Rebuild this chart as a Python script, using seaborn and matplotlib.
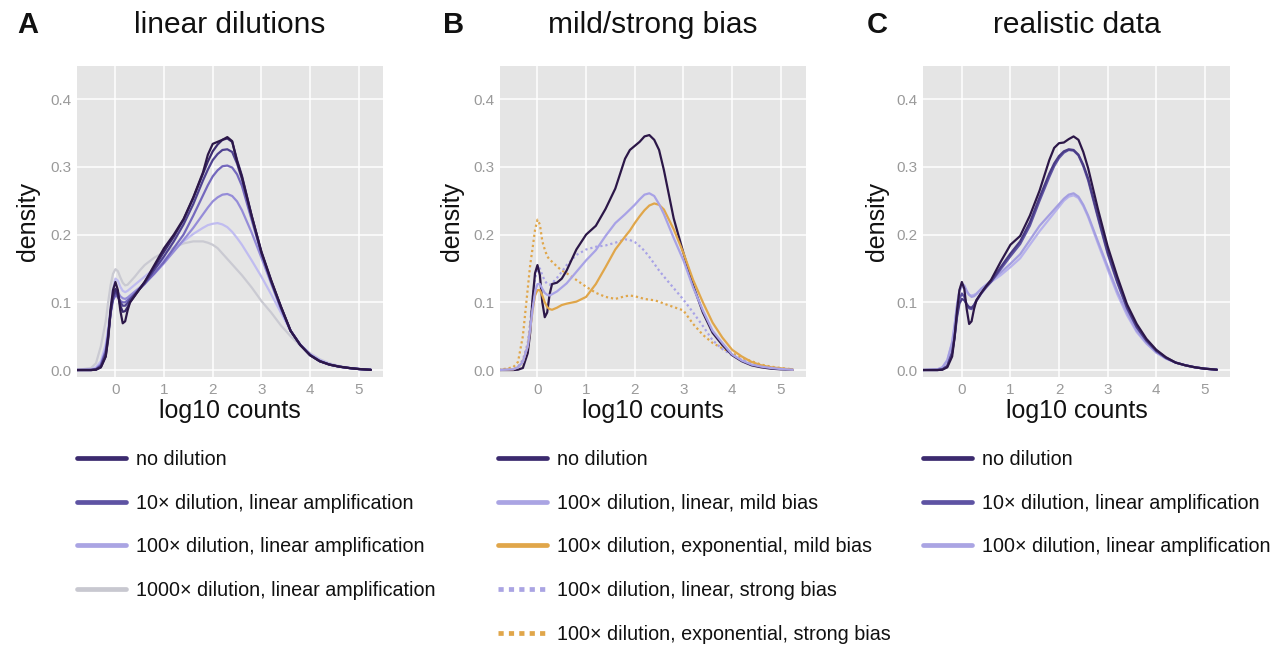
import matplotlib
matplotlib.use("Agg")
import matplotlib.pyplot as plt
import seaborn as sns
import pandas as pd
from matplotlib.lines import Line2D

# ---------------- data ----------------
X = [-0.8, -0.5, -0.4, -0.3, -0.2, -0.15, -0.1, -0.05, 0.0, 0.05, 0.1, 0.15, 0.2, 0.25, 0.3,
     0.4, 0.5, 0.6, 0.8, 1.0, 1.2, 1.4, 1.6, 1.8, 1.9, 2.0, 2.1, 2.2, 2.3, 2.4, 2.5, 2.6,
     2.8, 3.0, 3.2, 3.4, 3.6, 3.8, 4.0, 4.2, 4.4, 4.6, 4.8, 5.0, 5.25]

# Panel A: linear dilutions (curves from darkest to lightest)
A_none_a = [0, 0, 0.0005, 0.004, 0.02, 0.048, 0.09, 0.118, 0.13, 0.118, 0.088, 0.069, 0.072, 0.088, 0.1,
            0.11, 0.12, 0.13, 0.155, 0.18, 0.2, 0.223, 0.255, 0.292, 0.318, 0.334, 0.337, 0.34, 0.344, 0.338, 0.308, 0.285,
            0.228, 0.175, 0.133, 0.094, 0.058, 0.037, 0.022, 0.013, 0.008, 0.005, 0.003, 0.0015, 0.0003]
A_none_b = [0, 0, 0.0005, 0.004, 0.02, 0.045, 0.085, 0.11, 0.12, 0.112, 0.095, 0.086, 0.087, 0.093, 0.1,
            0.11, 0.12, 0.13, 0.152, 0.175, 0.197, 0.222, 0.254, 0.29, 0.308, 0.323, 0.333, 0.34, 0.342, 0.337, 0.31, 0.287,
            0.228, 0.174, 0.132, 0.094, 0.058, 0.037, 0.022, 0.013, 0.008, 0.005, 0.003, 0.0015, 0.0003]
A_10x_a = [0, 0, 0.001, 0.006, 0.025, 0.05, 0.085, 0.107, 0.115, 0.11, 0.1, 0.095, 0.095, 0.099, 0.104,
           0.112, 0.12, 0.128, 0.148, 0.168, 0.19, 0.215, 0.245, 0.28, 0.296, 0.31, 0.319, 0.325, 0.326, 0.322, 0.305, 0.282,
           0.226, 0.173, 0.131, 0.093, 0.058, 0.037, 0.022, 0.013, 0.008, 0.005, 0.003, 0.0015, 0.0003]
A_10x_b = [0, 0, 0.001, 0.007, 0.028, 0.052, 0.083, 0.103, 0.11, 0.108, 0.102, 0.1, 0.1, 0.103, 0.106,
           0.113, 0.12, 0.127, 0.143, 0.16, 0.18, 0.2, 0.228, 0.258, 0.273, 0.286, 0.295, 0.301, 0.302, 0.299, 0.289, 0.272,
           0.222, 0.172, 0.13, 0.092, 0.058, 0.037, 0.022, 0.013, 0.008, 0.005, 0.003, 0.0015, 0.0003]
A_100x_a = [0, 0.0005, 0.002, 0.009, 0.03, 0.055, 0.085, 0.107, 0.117, 0.115, 0.109, 0.106, 0.105, 0.107, 0.11,
            0.116, 0.122, 0.128, 0.142, 0.158, 0.175, 0.192, 0.21, 0.23, 0.24, 0.249, 0.255, 0.259, 0.26, 0.257, 0.249, 0.236,
            0.203, 0.166, 0.128, 0.09, 0.058, 0.037, 0.023, 0.014, 0.008, 0.005, 0.003, 0.0015, 0.0003]
A_100x_b = [0, 0.001, 0.004, 0.013, 0.038, 0.062, 0.092, 0.12, 0.135, 0.132, 0.123, 0.117, 0.115, 0.117, 0.12,
            0.126, 0.132, 0.138, 0.15, 0.163, 0.177, 0.19, 0.201, 0.21, 0.214, 0.216, 0.217, 0.215, 0.211, 0.204, 0.195, 0.185,
            0.162, 0.138, 0.112, 0.085, 0.058, 0.038, 0.024, 0.015, 0.009, 0.005, 0.003, 0.0015, 0.0003]
A_1000x = [0, 0.003, 0.01, 0.035, 0.072, 0.1, 0.125, 0.142, 0.149, 0.146, 0.137, 0.129, 0.125, 0.126, 0.13,
           0.138, 0.147, 0.155, 0.166, 0.174, 0.181, 0.187, 0.19, 0.19, 0.188, 0.185, 0.18, 0.172, 0.164, 0.156, 0.148, 0.14,
           0.122, 0.102, 0.085, 0.066, 0.05, 0.036, 0.025, 0.016, 0.01, 0.006, 0.003, 0.0015, 0.0003]

# Panel B: mild/strong bias
B_none = [0, 0, 0.0005, 0.003, 0.025, 0.055, 0.105, 0.143, 0.155, 0.14, 0.1, 0.078, 0.085, 0.112, 0.127,
          0.129, 0.135, 0.147, 0.178, 0.2, 0.213, 0.238, 0.268, 0.312, 0.325, 0.331, 0.337, 0.345, 0.347, 0.34, 0.325, 0.295,
          0.224, 0.173, 0.125, 0.085, 0.055, 0.037, 0.022, 0.013, 0.007, 0.004, 0.002, 0.001, 0.0003]
B_lin_mild = [0, 0.001, 0.004, 0.012, 0.035, 0.06, 0.09, 0.115, 0.127, 0.127, 0.12, 0.114, 0.111, 0.11, 0.112,
              0.116, 0.122, 0.128, 0.145, 0.162, 0.177, 0.198, 0.217, 0.23, 0.237, 0.244, 0.252, 0.259, 0.261, 0.257, 0.245, 0.23,
              0.195, 0.162, 0.122, 0.088, 0.058, 0.04, 0.023, 0.014, 0.008, 0.005, 0.003, 0.0015, 0.0003]
B_exp_mild = [0, 0.001, 0.004, 0.012, 0.035, 0.06, 0.088, 0.11, 0.118, 0.118, 0.11, 0.1, 0.093, 0.09, 0.089,
              0.092, 0.096, 0.098, 0.101, 0.108, 0.127, 0.152, 0.178, 0.197, 0.206, 0.217, 0.227, 0.236, 0.243, 0.246, 0.244, 0.237,
              0.208, 0.173, 0.133, 0.1, 0.07, 0.048, 0.03, 0.02, 0.012, 0.007, 0.004, 0.0025, 0.0005]
B_lin_strong = [0, 0.001, 0.005, 0.015, 0.04, 0.07, 0.105, 0.135, 0.15, 0.15, 0.14, 0.132, 0.127, 0.126, 0.128,
                0.136, 0.145, 0.155, 0.17, 0.178, 0.182, 0.184, 0.188, 0.193, 0.192, 0.189, 0.183, 0.176, 0.167, 0.157, 0.147, 0.138,
                0.121, 0.104, 0.085, 0.065, 0.044, 0.031, 0.022, 0.015, 0.01, 0.006, 0.004, 0.002, 0.0005]
B_exp_strong = [0, 0.004, 0.012, 0.05, 0.12, 0.155, 0.18, 0.207, 0.222, 0.215, 0.19, 0.178, 0.168, 0.163, 0.16,
                0.153, 0.147, 0.143, 0.133, 0.123, 0.114, 0.108, 0.105, 0.109, 0.11, 0.109, 0.107, 0.105, 0.104, 0.103, 0.101, 0.098,
                0.093, 0.088, 0.068, 0.052, 0.04, 0.032, 0.025, 0.018, 0.013, 0.008, 0.005, 0.003, 0.001]

# Panel C: realistic data
C_none = [0, 0, 0.0005, 0.004, 0.02, 0.048, 0.088, 0.118, 0.13, 0.12, 0.09, 0.068, 0.072, 0.09, 0.103,
          0.114, 0.124, 0.133, 0.16, 0.185, 0.198, 0.228, 0.265, 0.31, 0.328, 0.335, 0.336, 0.341, 0.345, 0.34, 0.322, 0.298,
          0.238, 0.183, 0.138, 0.097, 0.068, 0.046, 0.03, 0.019, 0.011, 0.007, 0.004, 0.002, 0.0005]
C_10x_a = [0, 0, 0.001, 0.006, 0.025, 0.048, 0.078, 0.098, 0.105, 0.103, 0.097, 0.093, 0.092, 0.096, 0.103,
           0.114, 0.123, 0.131, 0.152, 0.172, 0.19, 0.218, 0.255, 0.29, 0.305, 0.316, 0.323, 0.326, 0.325, 0.318, 0.303, 0.283,
           0.228, 0.175, 0.131, 0.093, 0.064, 0.044, 0.029, 0.018, 0.011, 0.007, 0.004, 0.002, 0.0005]
C_10x_b = [0, 0, 0.001, 0.006, 0.026, 0.05, 0.082, 0.105, 0.113, 0.108, 0.097, 0.091, 0.09, 0.095, 0.102,
           0.113, 0.122, 0.13, 0.149, 0.168, 0.186, 0.213, 0.25, 0.285, 0.301, 0.313, 0.321, 0.325, 0.324, 0.317, 0.301, 0.28,
           0.225, 0.172, 0.129, 0.091, 0.063, 0.043, 0.028, 0.018, 0.011, 0.007, 0.004, 0.002, 0.0005]
C_100x_a = [0, 0.001, 0.004, 0.014, 0.04, 0.065, 0.095, 0.118, 0.127, 0.125, 0.117, 0.111, 0.108, 0.109, 0.112,
            0.12, 0.126, 0.132, 0.144, 0.157, 0.171, 0.192, 0.213, 0.229, 0.237, 0.245, 0.253, 0.259, 0.261, 0.256, 0.244, 0.228,
            0.19, 0.153, 0.116, 0.085, 0.058, 0.04, 0.026, 0.017, 0.011, 0.007, 0.004, 0.002, 0.0005]
C_100x_b = [0, 0.001, 0.004, 0.015, 0.042, 0.067, 0.096, 0.116, 0.123, 0.121, 0.115, 0.111, 0.11, 0.111, 0.113,
            0.12, 0.125, 0.13, 0.14, 0.152, 0.165, 0.185, 0.205, 0.223, 0.232, 0.241, 0.25, 0.256, 0.258, 0.254, 0.242, 0.226,
            0.187, 0.149, 0.112, 0.081, 0.056, 0.039, 0.026, 0.017, 0.011, 0.007, 0.004, 0.002, 0.0005]

# legend labels
A_labels = ["no dilution", "10\u00d7 dilution, linear amplification",
            "100\u00d7 dilution, linear amplification", "1000\u00d7 dilution, linear amplification"]
B_labels = ["no dilution", "100\u00d7 dilution, linear, mild bias", "100\u00d7 dilution, exponential, mild bias",
            "100\u00d7 dilution, linear, strong bias", "100\u00d7 dilution, exponential, strong bias"]
C_labels = ["no dilution", "10\u00d7 dilution, linear amplification", "100\u00d7 dilution, linear amplification"]
titles = ["linear dilutions", "mild/strong bias", "realistic data"]
letters = ["A", "B", "C"]

# ---------------- style ----------------
DARK = "#3b2a6e"
MED = "#5e53a3"
LAV = "#aaa4e3"
GRAY = "#c8c8d0"
ORANGE = "#e0a64a"

sns.set_theme(style="darkgrid", rc={"axes.facecolor": "#e5e5e5", "grid.color": "white",
                                     "grid.linewidth": 1.1, "axes.edgecolor": "#e5e5e5"})
plt.rcParams["font.family"] = ["Liberation Sans", "DejaVu Sans"]

W, H = 1276, 646
fig = plt.figure(figsize=(W / 100, H / 100), dpi=100)

panels = [
    dict(left=77, width=306, xlim=(-0.79, 5.50), ylabx=-0.12, legx=0.0, title_cx=230, letter_x=17,
         curves=[("1000x", A_1000x, "#cacad2", False), ("100x b", A_100x_b, "#c0bcf0", False),
                 ("100x a", A_100x_a, "#958cd8", False), ("10x b", A_10x_b, "#7468bd", False),
                 ("10x a", A_10x_a, "#4f4290", False), ("none b", A_none_b, "#3b2a6e", False),
                 ("none a", A_none_a, "#2c1748", False)],
         legend=[(A_labels[0], DARK, False), (A_labels[1], MED, False), (A_labels[2], LAV, False),
                 (A_labels[3], GRAY, False)]),
    dict(left=500, width=306, xlim=(-0.77, 5.52), ylabx=-0.118, legx=-0.006, title_cx=653, letter_x=443,
         curves=[("exp strong", B_exp_strong, "#e0a64a", True), ("lin strong", B_lin_strong, "#a8a2e6", True),
                 ("none", B_none, "#2c1748", False), ("exp mild", B_exp_mild, "#e0a64a", False),
                 ("lin mild", B_lin_mild, "#a8a2e6", False)],
         legend=[(B_labels[0], DARK, False), (B_labels[1], LAV, False), (B_labels[2], ORANGE, False),
                 (B_labels[3], LAV, True), (B_labels[4], ORANGE, True)]),
    dict(left=923, width=307, xlim=(-0.80, 5.52), ylabx=-0.11, legx=0.0, title_cx=1077, letter_x=867,
         curves=[("100x b", C_100x_b, "#b7b2ec", False), ("100x a", C_100x_a, "#a49ee0", False),
                 ("10x b", C_10x_b, "#5e53a3", False), ("10x a", C_10x_a, "#4a3c86", False),
                 ("none", C_none, "#2c1748", False)],
         legend=[(C_labels[0], DARK, False), (C_labels[1], MED, False), (C_labels[2], LAV, False)]),
]

top_px, bot_px = 66, 377
for i, p in enumerate(panels):
    ax = fig.add_axes([p["left"] / W, 1 - bot_px / H, p["width"] / W, (bot_px - top_px) / H])
    rows = []
    for name, ys, col, dotted in p["curves"]:
        for xv, yv in zip(X, ys):
            rows.append((xv, yv, name))
    df = pd.DataFrame(rows, columns=["x", "y", "curve"])
    order = [c[0] for c in p["curves"]]
    palette = {c[0]: c[2] for c in p["curves"]}
    dashes = {c[0]: ((1, 1.3) if c[3] else "") for c in p["curves"]}
    sns.lineplot(data=df, x="x", y="y", hue="curve", hue_order=order, palette=palette,
                 style="curve", style_order=order, dashes=dashes, estimator=None, sort=False,
                 linewidth=1.6, legend=False, ax=ax)

    ax.set_xlim(*p["xlim"])
    ax.set_ylim(-0.0103, 0.449)
    ax.set_xticks([0, 1, 2, 3, 4, 5])
    ax.set_xticklabels(["0", "1", "2", "3", "4", "5"])
    ax.set_yticks([0, 0.1, 0.2, 0.3, 0.4])
    ax.set_yticklabels(["0.0", "0.1", "0.2", "0.3", "0.4"])
    ax.tick_params(axis="both", length=0, labelsize=11, labelcolor="#9a9a9a")
    ax.tick_params(axis="y", pad=4)
    ax.tick_params(axis="x", pad=4)
    for s in ax.spines.values():
        s.set_visible(False)
    ax.grid(True, color="white", linewidth=1.1)

    ax.set_xlabel("log10 counts", fontsize=18, color="#111111")
    ax.set_ylabel("density", fontsize=18, color="#111111")
    ax.xaxis.set_label_coords(0.5, -0.072)
    ax.yaxis.set_label_coords(p["ylabx"], 0.5)

    handles = []
    labels = []
    for lab, col, dotted in p["legend"]:
        if dotted:
            h = Line2D([], [], color=col, lw=3.4, linestyle=(0, (1.1, 1.1)), dash_capstyle="butt")
        else:
            h = Line2D([], [], color=col, lw=3.4, solid_capstyle="round")
        handles.append(h)
        labels.append(lab)
    leg = ax.legend(handles, labels, loc="upper left", bbox_to_anchor=(p["legx"], -0.235),
                    frameon=False, fontsize=14.2, handlelength=2.5, handletextpad=0.5,
                    labelspacing=1.25, borderpad=0, borderaxespad=0)
    for t in leg.get_texts():
        t.set_color("#111111")

    fig.text(p["title_cx"] / W, 1 - 33 / H, titles[i], ha="center", va="baseline",
             fontsize=21.5, color="#111111")
    fig.text(p["letter_x"] / W, 1 - 33 / H, letters[i], ha="left", va="baseline",
             fontsize=21, fontweight="bold", color="#111111")

fig.savefig("out.png", dpi=100)
